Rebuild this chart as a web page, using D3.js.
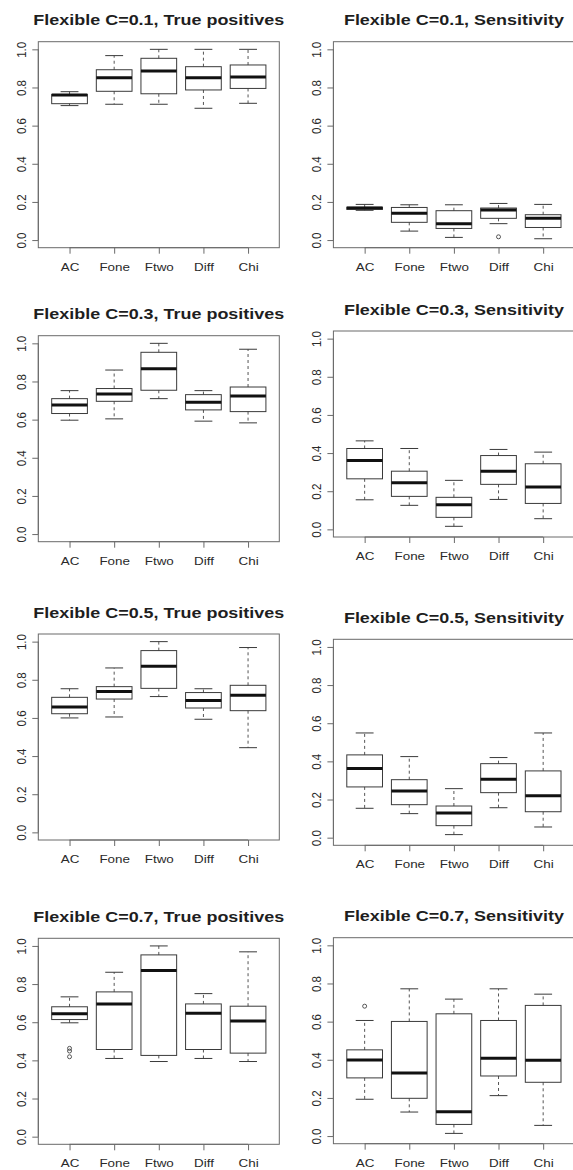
<!DOCTYPE html>
<html>
<head>
<meta charset="utf-8">
<script src="https://cdn.jsdelivr.net/npm/d3@7"></script>
<style>
  body { margin: 0; background: #fff; }
  svg { display: block; }
</style>
</head>
<body>
<script>
// Methods compared in every panel
const categories = ["AC", "Fone", "Ftwo", "Diff", "Chi"];
const yTicks = [0, 0.2, 0.4, 0.6, 0.8, 1.0];

const titles = [
  "Flexible C=0.1, True positives", "Flexible C=0.1, Sensitivity",
  "Flexible C=0.3, True positives", "Flexible C=0.3, Sensitivity",
  "Flexible C=0.5, True positives", "Flexible C=0.5, Sensitivity",
  "Flexible C=0.7, True positives", "Flexible C=0.7, Sensitivity"
];

// Box statistics per method: [lower whisker, Q1, median, Q3, upper whisker]
const tpC01 = [[0.705, 0.715, 0.760, 0.763, 0.778], [0.712, 0.780, 0.851, 0.893, 0.967], [0.712, 0.767, 0.886, 0.953, 1.000], [0.691, 0.787, 0.851, 0.909, 1.000], [0.717, 0.795, 0.855, 0.918, 1.000]];
const seC01 = [[0.156, 0.161, 0.168, 0.172, 0.187], [0.047, 0.093, 0.140, 0.171, 0.185], [0.014, 0.061, 0.086, 0.154, 0.185], [0.086, 0.114, 0.157, 0.168, 0.192], [0.007, 0.066, 0.114, 0.133, 0.187]];
const tpC03 = [[0.597, 0.632, 0.677, 0.710, 0.752], [0.604, 0.696, 0.735, 0.763, 0.860], [0.710, 0.754, 0.867, 0.953, 1.000], [0.592, 0.651, 0.691, 0.731, 0.752], [0.583, 0.642, 0.724, 0.771, 0.969]];
const seC03 = [[0.155, 0.265, 0.361, 0.424, 0.464], [0.126, 0.173, 0.244, 0.305, 0.424], [0.016, 0.063, 0.129, 0.168, 0.257], [0.157, 0.236, 0.305, 0.387, 0.419], [0.056, 0.136, 0.222, 0.344, 0.405]];
const tpC05 = [[0.600, 0.622, 0.657, 0.708, 0.753], [0.605, 0.699, 0.738, 0.764, 0.862], [0.712, 0.755, 0.871, 0.953, 1.000], [0.593, 0.652, 0.691, 0.733, 0.753], [0.444, 0.638, 0.719, 0.771, 0.969]];
const seC05 = [[0.154, 0.266, 0.362, 0.434, 0.549], [0.126, 0.173, 0.245, 0.304, 0.425], [0.016, 0.063, 0.129, 0.166, 0.257], [0.157, 0.236, 0.306, 0.388, 0.420], [0.056, 0.136, 0.220, 0.350, 0.549]];
const tpC07 = [[0.597, 0.614, 0.644, 0.681, 0.733], [0.410, 0.457, 0.696, 0.759, 0.862], [0.394, 0.426, 0.871, 0.953, 1.000], [0.410, 0.457, 0.647, 0.696, 0.750], [0.394, 0.438, 0.606, 0.684, 0.969]];
const seC07 = [[0.193, 0.305, 0.399, 0.452, 0.606], [0.126, 0.198, 0.331, 0.601, 0.772], [0.014, 0.061, 0.128, 0.641, 0.718], [0.212, 0.315, 0.408, 0.606, 0.772], [0.056, 0.282, 0.398, 0.685, 0.744]];

// Outlying points: [method index, value]
const seC01Out = [[3, 0.017]];
const tpC07Out = [[0, 0.463], [0, 0.449], [0, 0.419]];
const seC07Out = [[0, 0.681]];

const statsList = [tpC01, seC01, tpC03, seC03, tpC05, seC05, tpC07, seC07];
const outList = [[], seC01Out, [], [], [], [], tpC07Out, seC07Out];

// Plot-region placement of each panel (left, top); every region is 241 x 206
const layout = [
  [38.3, 41.7], [333.4, 41.7],
  [38.3, 335.7], [333.4, 331.0],
  [38.3, 634.0], [333.4, 639.3],
  [38.3, 938.3], [333.4, 937.7]
];
const plotW = 241, plotH = 206;
const sx = 1.166;            // horizontal widening of the lettering
const font = "'Liberation Sans', Arial, Helvetica, sans-serif";

const svg = d3.select("body").append("svg")
  .attr("width", 573).attr("height", 1170)
  .style("background", "#fff");

titles.forEach((title, i) => {
  const [L, T] = layout[i];
  const R = L + plotW, B = T + plotH;
  const stats = statsList[i];
  const outs = outList[i];

  const x = d3.scaleLinear().domain([0.3, 5.7]).range([L, R]);
  const y = d3.scaleLinear().domain([-0.04, 1.04]).range([B, T]);
  const boxHalf = 0.4, stapleHalf = 0.2;

  const g = svg.append("g");

  // title
  g.append("text")
    .attr("transform", `translate(${(L + R) / 2},${T - 16.5}) scale(${sx},1)`)
    .attr("text-anchor", "middle")
    .style("font-family", font)
    .style("font-weight", "bold")
    .style("font-size", "15.4px")
    .style("fill", "#1e1e1e")
    .text(title);

  // boxes
  const bx = g.selectAll("g.box").data(stats).join("g").attr("class", "box");

  // dashed whiskers
  bx.append("line")
    .attr("x1", (d, k) => x(k + 1)).attr("x2", (d, k) => x(k + 1))
    .attr("y1", d => y(d[3])).attr("y2", d => y(d[4]))
    .attr("stroke", "#555").attr("stroke-width", 1).attr("stroke-dasharray", "3,3");
  bx.append("line")
    .attr("x1", (d, k) => x(k + 1)).attr("x2", (d, k) => x(k + 1))
    .attr("y1", d => y(d[1])).attr("y2", d => y(d[0]))
    .attr("stroke", "#555").attr("stroke-width", 1).attr("stroke-dasharray", "3,3");
  // staples
  [0, 4].forEach(j => {
    bx.append("line")
      .attr("x1", (d, k) => x(k + 1 - stapleHalf)).attr("x2", (d, k) => x(k + 1 + stapleHalf))
      .attr("y1", d => y(d[j])).attr("y2", d => y(d[j]))
      .attr("stroke", "#3a3a3a").attr("stroke-width", 1);
  });
  // box body
  bx.append("rect")
    .attr("x", (d, k) => x(k + 1 - boxHalf))
    .attr("width", (d, k) => x(k + 1 + boxHalf) - x(k + 1 - boxHalf))
    .attr("y", d => y(d[3]))
    .attr("height", d => y(d[1]) - y(d[3]))
    .attr("fill", "none").attr("stroke", "#3a3a3a").attr("stroke-width", 1);
  // median
  bx.append("line")
    .attr("x1", (d, k) => x(k + 1 - boxHalf)).attr("x2", (d, k) => x(k + 1 + boxHalf))
    .attr("y1", d => y(d[2])).attr("y2", d => y(d[2]))
    .attr("stroke", "#111").attr("stroke-width", 3);

  // outliers
  g.selectAll("circle.out").data(outs).join("circle").attr("class", "out")
    .attr("cx", d => x(d[0] + 1)).attr("cy", d => y(d[1])).attr("r", 2)
    .attr("fill", "none").attr("stroke", "#444").attr("stroke-width", 0.9);

  // frame
  g.append("rect")
    .attr("x", L).attr("y", T).attr("width", plotW).attr("height", plotH)
    .attr("fill", "none").attr("stroke", "#6a6a6a").attr("stroke-width", 1);

  // y axis
  const ya = g.append("g").attr("transform", `translate(${L},0)`)
    .call(d3.axisLeft(y).tickValues(yTicks).tickSize(6).tickFormat(d3.format(".1f")));
  ya.select(".domain").attr("d", `M0,${y(0)}V${y(1)}`).attr("stroke", "#6a6a6a");
  ya.selectAll(".tick line").attr("stroke", "#6a6a6a");
  ya.selectAll(".tick text")
    .attr("x", null).attr("dy", null).attr("y", null)
    .attr("transform", `translate(-12.5,0) scale(${sx},1) rotate(-90)`)
    .attr("text-anchor", "middle")
    .style("font-family", font).style("font-size", "11.5px").style("fill", "#2a2a2a");

  // x axis
  const xa = g.append("g").attr("transform", `translate(0,${B})`)
    .call(d3.axisBottom(x).tickValues([1, 2, 3, 4, 5]).tickSize(6)
      .tickFormat((d) => categories[d - 1]));
  xa.select(".domain").attr("d", `M${x(1)},0H${x(5)}`).attr("stroke", "#6a6a6a");
  xa.selectAll(".tick line").attr("stroke", "#6a6a6a");
  xa.selectAll(".tick text")
    .attr("y", null).attr("dy", null)
    .attr("transform", `translate(0,23) scale(${sx},1)`)
    .attr("text-anchor", "middle")
    .style("font-family", font).style("font-size", "11.5px").style("fill", "#2a2a2a");
});
</script>
</body>
</html>
